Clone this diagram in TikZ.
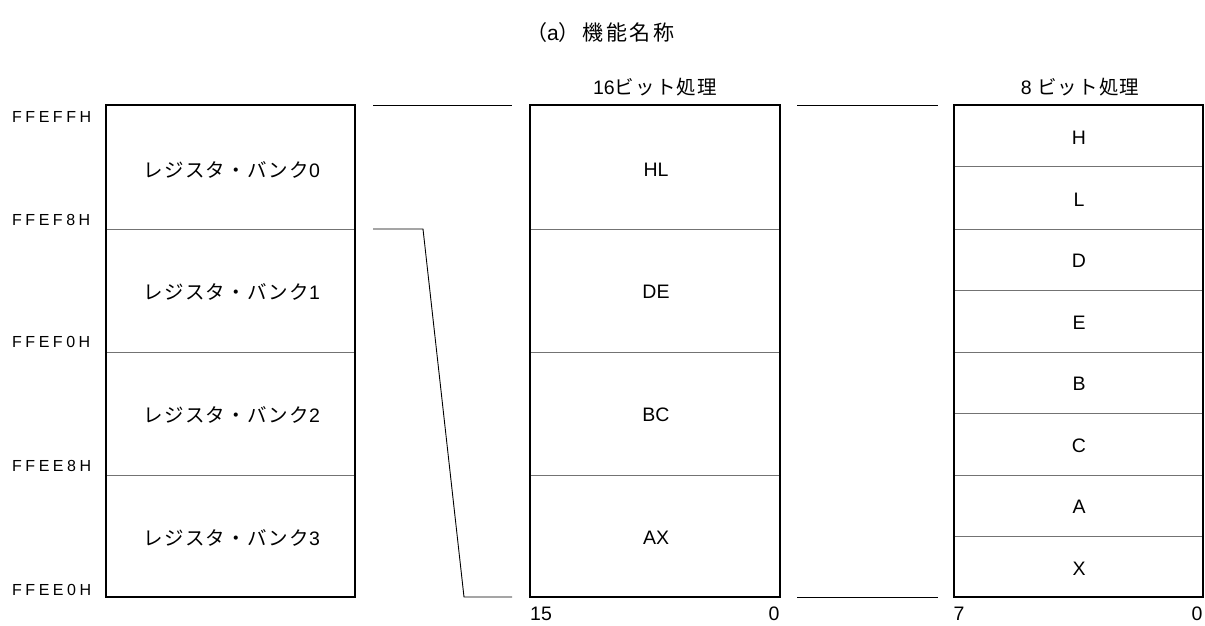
\documentclass[tikz,border=0pt]{standalone}
\usepackage{fontspec}
\setmainfont{Liberation Sans}
\newfontfamily\jp[LetterSpace=6]{Noto Sans CJK JP}
\newfontfamily\jpt[LetterSpace=12]{Noto Sans CJK JP}
\newfontfamily\addrfont[LetterSpace=22]{Liberation Sans}
\begin{document}
\begin{tikzpicture}[x=1pt,y=-1pt,
  outer/.style={draw=black,line width=2.2pt},
  sep/.style={draw=black!55,line width=1pt},
  conn/.style={draw=black,line width=0.9pt},
  lbl/.style={font=\fontsize{19.5}{22}\selectfont,inner sep=0pt},
  ttl/.style={font=\fontsize{21}{24}\selectfont,inner sep=0pt},
  addr/.style={font=\fontsize{16}{19}\selectfont\addrfont,anchor=west,inner sep=0pt},
  bit/.style={font=\fontsize{19.5}{22}\selectfont,inner sep=0pt}]
\useasboundingbox (0,0) rectangle (1205,625);
% title
\node[ttl,anchor=west] (title) at (526,33) {{\jpt （}a{\jpt ）}\hspace{3pt}{\jpt 機能名称}};
% left box
\draw[sep] (106,229) -- (355,229);
\draw[sep] (106,352) -- (355,352);
\draw[sep] (106,475) -- (355,475);
\node[outer,minimum width=249pt,minimum height=492pt,inner sep=0pt] (lbox) at (230.5,351) {};
\node[lbl] (rb0) at (232,170) {{\jp レジスタ・バンク}0};
\node[lbl] (rb1) at (232,292) {{\jp レジスタ・バンク}1};
\node[lbl] (rb2) at (232,415) {{\jp レジスタ・バンク}2};
\node[lbl] (rb3) at (232,538) {{\jp レジスタ・バンク}3};
% addresses
\node[addr] (a0) at (12,117) {FFEFFH};
\node[addr] (a1) at (12,220) {FFEF8H};
\node[addr] (a2) at (12,342) {FFEF0H};
\node[addr] (a3) at (12,466) {FFEE8H};
\node[addr] (a4) at (12,590) {FFEE0H};
% middle box
\draw[sep] (530,229) -- (780,229);
\draw[sep] (530,352) -- (780,352);
\draw[sep] (530,475) -- (780,475);
\node[outer,minimum width=250pt,minimum height=492pt,inner sep=0pt] (mbox) at (655,351) {};
\node[lbl] (m16) at (655,87) {16{\jp ビット処理}};
\node[lbl] (hl) at (656,170) {HL};
\node[lbl] (de) at (656,292) {DE};
\node[lbl] (bc) at (656,415) {BC};
\node[lbl] (ax) at (656,538) {AX};
\node[bit] (b15) at (541,614) {15};
\node[bit] (b0m) at (774,614) {0};
% right box
\foreach \yy in {166.5,229,290.5,352,413.5,475,536.5}
  \draw[sep] (954,\yy) -- (1203,\yy);
\node[outer,minimum width=249pt,minimum height=492pt,inner sep=0pt] (rbox) at (1078.5,351) {};
\node[lbl] (m8) at (1080,87) {8 {\jp ビット処理}};
\node[lbl] (rh) at (1079,138) {H};
\node[lbl] (rl) at (1079,200) {L};
\node[lbl] (rd) at (1079,261) {D};
\node[lbl] (re) at (1079,323) {E};
\node[lbl] (rB) at (1079,384) {B};
\node[lbl] (rc) at (1079,446) {C};
\node[lbl] (ra) at (1079,507) {A};
\node[lbl] (rx) at (1079,569) {X};
\node[bit] (b7) at (959,614) {7};
\node[bit] (b0r) at (1197,614) {0};
% connectors
\coordinate (c1a) at (373,105);
\coordinate (c1b) at (512,105);
\coordinate (c2a) at (373,229);
\coordinate (c2b) at (423,229);
\coordinate (c2c) at (464,597);
\coordinate (c2d) at (512,597);
\coordinate (c3a) at (797,105);
\coordinate (c3b) at (938,105);
\coordinate (c4a) at (797,597);
\coordinate (c4b) at (938,597);
\draw[conn] (c1a) -- (c1b);
\draw[conn] (c2a) -- (c2b) -- (c2c) -- (c2d);
\draw[conn] (c3a) -- (c3b);
\draw[conn] (c4a) -- (c4b);
\end{tikzpicture}
\end{document}
